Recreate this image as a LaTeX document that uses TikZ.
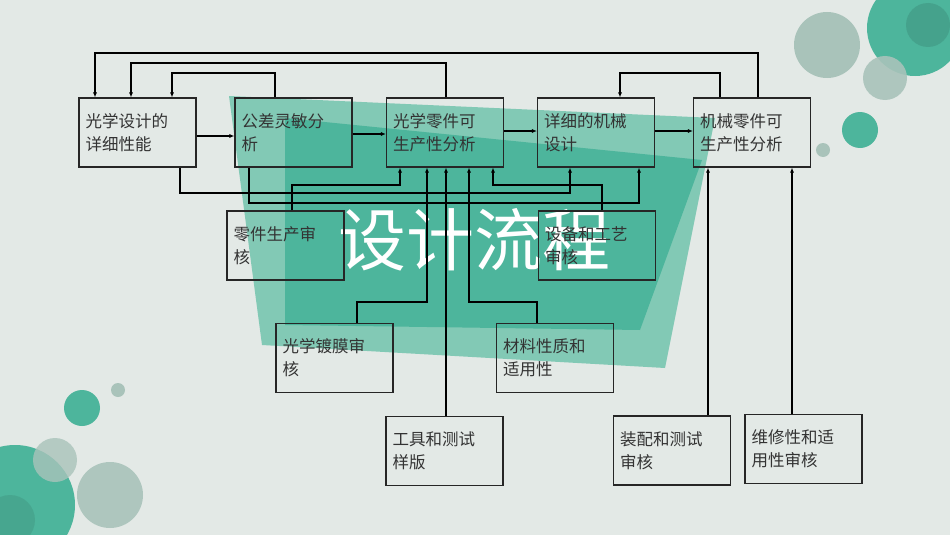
\documentclass[tikz,border=0pt]{standalone}
\usepackage{fontspec}
\setmainfont{Liberation Serif}
\newfontfamily\cjk{Noto Sans CJK SC}
\usetikzlibrary{arrows.meta}
\definecolor{bg}{HTML}{E3E9E6}
\definecolor{teal}{HTML}{4DB59C}
\definecolor{tealL}{HTML}{82C9B5}
\definecolor{grayc}{HTML}{A9C3BA}
\begin{document}
\begin{tikzpicture}[x=1pt,y=-1pt,
  box/.style={draw=black!85,line width=1.1pt,minimum width=117pt,minimum height=69pt,inner sep=0pt},
  lbl/.style={text width=104pt,align=left,font=\cjk\fontsize{16.5}{23}\selectfont,text=black!80},
  arr/.style={draw=black,line width=1.1pt,-{Latex[length=5pt,width=4pt]}},
  ln/.style={draw=black,line width=1.1pt}]
\fill[bg] (0,0) rectangle (950,535);
\useasboundingbox (0,0) rectangle (950,535);
% decorations
\fill[grayc] (827,45) circle (33);
\fill[teal] (915,28) circle (48);
\fill[teal!80!black,opacity=.5] (928,25) circle (22);
\fill[grayc,opacity=.9] (885,78) circle (22);
\fill[teal] (860,130) circle (18);
\fill[grayc] (823,150) circle (7);
\fill[teal] (15,505) circle (60);
\fill[grayc,opacity=.9] (110,495) circle (33);
\fill[grayc,opacity=.8] (55,460) circle (22);
\fill[teal!80!black,opacity=.4] (10,520) circle (25);
\fill[teal] (82,408) circle (18);
\fill[grayc] (118,390) circle (7);
\fill[tealL] (229,96) -- (715,118) -- (665,368) -- (262,345) -- cycle;
\fill[teal] (285,118) -- (702,160) -- (640,330) -- (285,325) -- cycle;
\node[font=\cjk\fontsize{68}{68}\selectfont,text=white] (T) at (474,240) {设计流程};
% boxes
\node[box] (A) at (137.5,132.5) {}; \node[lbl] at (A) {光学设计的\\详细性能};
\node[box] (B) at (293.5,132.5) {}; \node[lbl] at (B) {公差灵敏分\\析};
\node[box] (C) at (445,132.5) {}; \node[lbl] at (C) {光学零件可\\生产性分析};
\node[box] (D) at (596,132.5) {}; \node[lbl] at (D) {详细的机械\\设计};
\node[box] (E) at (752,132.5) {}; \node[lbl] at (E) {机械零件可\\生产性分析};
\node[box] (F) at (285.5,245.5) {}; \node[lbl] at (F) {零件生产审\\核};
\node[box] (G) at (597,245.5) {}; \node[lbl] at (G) {设备和工艺\\审核};
\node[box] (H) at (334.5,358) {}; \node[lbl] at (H) {光学镀膜审\\核};
\node[box] (I) at (555,358) {}; \node[lbl] at (I) {材料性质和\\适用性};
\node[box] (J) at (444.5,451) {}; \node[lbl] at (J) {工具和测试\\样版};
\node[box] (K) at (672,450.5) {}; \node[lbl] at (K) {装配和测试\\审核};
\node[box] (L) at (803.5,449) {}; \node[lbl] at (L) {维修性和适\\用性审核};
% horizontal flow
\draw[arr] (A.east |- 0,136) -- (B.west |- 0,136);
\draw[arr] (B.east |- 0,134) -- (C.west |- 0,134);
\draw[arr] (C.east |- 0,131) -- (D.west |- 0,131);
\draw[arr] (D.east |- 0,131) -- (E.west |- 0,131);
% top feedback loops
\draw[arr] (758,0 |- E.north) -- (758,53) -- (95,53) -- (95,0 |- A.north);
\draw[arr] (446,0 |- C.north) -- (446,63) -- (131,63) -- (131,0 |- A.north);
\draw[arr] (275,0 |- B.north) -- (275,73) -- (172,73) -- (172,0 |- A.north);
\draw[arr] (720,0 |- E.north) -- (720,73) -- (620,73) -- (620,0 |- D.north);
% lower connections
\draw[arr] (180,0 |- A.south) -- (180,193) -- (570,193) -- (570,0 |- D.south);
\draw[arr] (249,0 |- B.south) -- (249,203) -- (639,203) -- (639,0 |- D.south);
\draw[arr] (292,0 |- F.north) -- (292,185) -- (400,185) -- (400,0 |- C.south);
\draw[arr] (602,0 |- G.north) -- (602,185) -- (493,185) -- (493,0 |- C.south);
\draw[arr] (357,0 |- H.north) -- (357,302) -- (427,302) -- (427,0 |- C.south);
\draw[arr] (446,0 |- J.north) -- (446,0 |- C.south);
\draw[arr] (537,0 |- I.north) -- (537,302) -- (469,302) -- (469,0 |- C.south);
\draw[arr] (708,0 |- K.north) -- (708,0 |- E.south);
\draw[arr] (792,0 |- L.north) -- (792,0 |- E.south);
\end{tikzpicture}
\end{document}
